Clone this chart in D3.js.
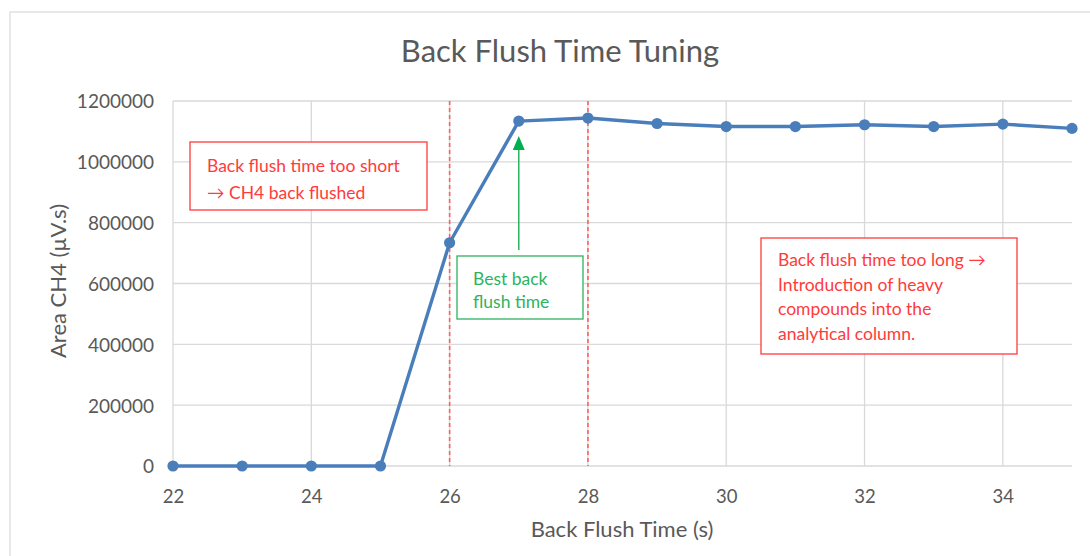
<!DOCTYPE html>
<html><head><meta charset="utf-8">
<script src="https://cdn.jsdelivr.net/npm/d3@7"></script>
<style>body{margin:0;background:#fff}svg{display:block}</style>
</head><body>
<svg id="c" width="1090" height="556"></svg>
<script>
const times = [22,23,24,25,26,27,28,29,30,31,32,33,34,35];
const areas = [0,0,0,0,734000,1134000,1144000,1126000,1116000,1116000,1122000,1116000,1124000,1110000];
const xTicks = [22,24,26,28,30,32,34];
const yTicks = [0,200000,400000,600000,800000,1000000,1200000];
const markerTimes = [26,28];
const bestTime = 27;
const title = "Back Flush Time Tuning";
const xLabel = "Back Flush Time (s)";
const yLabel = "Area CH4 (µV.s)";
const noteShort = ["Back flush time too short", "→ CH4 back flushed"];
const noteBest = ["Best back", "flush time"];
const noteLong = ["Back flush time too long →", "Introduction of heavy", "compounds into the", "analytical column."];

const svg = d3.select("#c");
const font = "Lato, 'Open Sans', sans-serif";
const L = 173, R = 1072, T = 101, B = 466;
const x = d3.scaleLinear().domain([22,35]).range([L,R]);
const y = d3.scaleLinear().domain([0,1200000]).range([B,T]);

svg.append("rect").attr("x",10).attr("y",12).attr("width",1100).attr("height",560)
  .attr("fill","#fff").attr("stroke","#d9d9d9").attr("stroke-width",1.2);

// gridlines
svg.append("g").selectAll("line").data(yTicks).join("line")
  .attr("x1",L).attr("x2",R).attr("y1",d=>y(d)).attr("y2",d=>y(d))
  .attr("stroke","#d9d9d9").attr("stroke-width",1.3);
svg.append("g").selectAll("line").data(xTicks).join("line")
  .attr("x1",d=>x(d)).attr("x2",d=>x(d)).attr("y1",T).attr("y2",B)
  .attr("stroke","#d9d9d9").attr("stroke-width",1.3);

// axes labels via d3 axes
const yAxis = svg.append("g").attr("transform",`translate(154,0)`)
  .call(d3.axisLeft(y).tickValues(yTicks).tickFormat(d3.format("d")).tickSize(0));
yAxis.select(".domain").remove();
yAxis.selectAll("text").attr("x",0).attr("font-family",font).attr("font-size",19).attr("fill","#595959").attr("dy","0.36em");

const xAxis = svg.append("g").attr("transform",`translate(0,${B})`)
  .call(d3.axisBottom(x).tickValues(xTicks).tickFormat(d3.format("d")).tickSize(0));
xAxis.select(".domain").remove();
xAxis.selectAll("text").attr("y",37).attr("dy",0).attr("font-family",font).attr("font-size",18.5).attr("fill","#595959");

// red dashed lines
svg.append("g").selectAll("line").data(markerTimes).join("line")
  .attr("x1",d=>x(d)).attr("x2",d=>x(d)).attr("y1",T).attr("y2",B)
  .attr("stroke","#ff6060").attr("stroke-width",1.6).attr("stroke-dasharray","4,3");

// line
svg.append("path").datum(times.map((t,i)=>[t,areas[i]]))
  .attr("d",d3.line().x(d=>x(d[0])).y(d=>y(d[1])))
  .attr("fill","none").attr("stroke","#4a7ebb").attr("stroke-width",3.4).attr("stroke-linejoin","round");
svg.append("g").selectAll("circle").data(times.map((t,i)=>[t,areas[i]])).join("circle")
  .attr("cx",d=>x(d[0])).attr("cy",d=>y(d[1])).attr("r",5.6).attr("fill","#4a7ebb");

// title
svg.append("text").attr("x",560).attr("y",62).attr("text-anchor","middle")
  .attr("font-family",font).attr("font-size",31).attr("fill","#595959").text(title);
svg.append("text").attr("x",622).attr("y",537).attr("text-anchor","middle")
  .attr("font-family",font).attr("font-size",22).attr("fill","#595959").text(xLabel);
svg.append("text").attr("transform","translate(66,281) rotate(-90)").attr("text-anchor","middle")
  .attr("font-family",font).attr("font-size",22).attr("fill","#595959").text(yLabel);

// annotation boxes
function box(x0,y0,w,h,color,lines,tx,ty,lh){
  svg.append("rect").attr("x",x0).attr("y",y0).attr("width",w).attr("height",h)
    .attr("fill","#fff").attr("stroke",color).attr("stroke-width",1.3);
  svg.append("g").selectAll("text").data(lines).join("text")
    .attr("x",tx).attr("y",(d,i)=>ty+i*lh).attr("font-family",font).attr("font-size",17.5)
    .attr("fill",color).text(d=>d);
}
box(190,142,237,68,"#ff3b3b",noteShort,207,172,27);
box(457,256,126,63,"#2db35d",noteBest,473,285,23);
box(761,238,256,116,"#ff3b3b",noteLong,778,266,24.7);

// green arrow
const ax = x(bestTime);
svg.append("line").attr("x1",ax).attr("x2",ax).attr("y1",250).attr("y2",148)
  .attr("stroke","#2db35d").attr("stroke-width",1.5);
svg.append("path").attr("d",`M${ax},136 L${ax-6},150 L${ax+6},150 Z`).attr("fill","#00b050");
</script>
</body></html>
